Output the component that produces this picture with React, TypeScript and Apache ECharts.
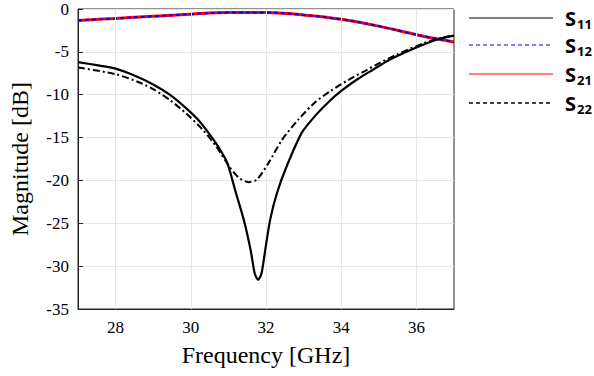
import React, { useEffect, useRef } from "react";
import * as echarts from "echarts";

const s11Freq = [27, 27.5, 28, 28.5, 29.0, 29.44, 29.88, 30.23, 30.53, 30.75, 30.97, 31.19, 31.41, 31.59, 31.7, 31.79, 31.88, 31.98, 32.11, 32.29, 32.55, 32.95, 33.3, 33.65, 34.0, 34.43, 34.8, 35.3, 36.0, 36.6, 37];
const s11Db = [-6.2, -6.55, -6.95, -7.75, -8.8, -10.0, -11.6, -13.1, -14.8, -16.2, -17.95, -21.3, -24.6, -28.1, -30.85, -31.6, -30.85, -28.1, -24.6, -21.5, -18.35, -14.45, -12.5, -10.9, -9.56, -8.2, -7.2, -5.9, -4.5, -3.5, -3.1];

const s22Freq = [27, 28, 28.65, 29.0, 29.44, 29.88, 30.32, 30.67, 31.02, 31.28, 31.54, 31.76, 32.07, 32.42, 32.86, 33.3, 33.74, 34.18, 34.6, 35.0, 35.49, 36.19, 36.72, 37];
const s22Db = [-6.83, -7.6, -8.6, -9.35, -10.6, -12.2, -14.1, -16.0, -18.35, -19.7, -20.2, -19.9, -17.95, -15.3, -12.9, -10.9, -9.5, -8.3, -7.3, -6.35, -5.3, -4.0, -3.3, -3.1];

const s21Freq = [27, 28, 29, 30, 31, 32, 33, 34, 35, 36, 37];
const s21Db = [-1.33, -1.1, -0.85, -0.6, -0.42, -0.4, -0.7, -1.2, -2.0, -3.0, -3.85];
const s12Db = [-1.33, -1.1, -0.85, -0.6, -0.42, -0.4, -0.7, -1.2, -2.0, -3.0, -3.85];

const xGridValues = [28, 30, 32, 34, 36];
const legendNames = ["11", "12", "21", "22"];

const pairs = (xs: number[], ys: number[]) => xs.map((x, i) => [x, ys[i]]);

export default function App() {
  const ref = useRef<HTMLDivElement>(null);
  useEffect(() => {
    if (!ref.current) return;
    const chart = echarts.init(ref.current, undefined, { renderer: "svg" });
    const serif = "'Liberation Serif', 'Times New Roman', serif";
    const axisColor = "#262626";
    const legendRows = [18, 45, 74, 103];
    const legendStyles = [
      { stroke: "#000000", lineWidth: 1, lineDash: null as any },
      { stroke: "#0000ff", lineWidth: 1, lineDash: [4, 3] },
      { stroke: "#ff0000", lineWidth: 1, lineDash: null as any },
      { stroke: "#000000", lineWidth: 1.5, lineDash: [4, 3] },
    ];
    const graphic: any[] = [];
    legendNames.forEach((n, i) => {
      const y = legendRows[i];
      graphic.push({
        type: "line",
        shape: { x1: 469, y1: y, x2: 553, y2: y },
        style: { ...legendStyles[i] },
      });
      graphic.push({
        type: "text",
        x: 565,
        y: y,
        style: { text: "S", font: "bold 20px 'Open Sans'", fill: "#000", verticalAlign: "middle" },
      });
      graphic.push({
        type: "text",
        x: 577,
        y: y + 6,
        style: { text: n, font: "bold 13px 'Open Sans'", fill: "#000", verticalAlign: "middle" },
      });
    });

    chart.setOption({
      animation: false,
      backgroundColor: "#ffffff",
      textStyle: { fontFamily: serif },
      grid: { left: 74, right: 140, top: 9, bottom: 67, show: true, borderColor: axisColor, borderWidth: 1 },
      xAxis: {
        type: "value",
        min: 27,
        max: 37,
        interval: 1,
        name: "Frequency [GHz]",
        nameLocation: "middle",
        nameGap: 34,
        nameTextStyle: { fontFamily: serif, fontSize: 24, color: "#000" },
        axisLine: { onZero: false, lineStyle: { color: axisColor } },
        axisTick: { inside: true, length: 5, lineStyle: { color: axisColor }, customValues: xGridValues },
        axisLabel: {
          fontFamily: serif,
          fontSize: 17,
          color: "#000",
          margin: 10,
          customValues: xGridValues,
          formatter: (v: number) => (v % 2 === 0 ? String(v) : ""),
        },
        splitLine: { show: false },
      },
      yAxis: {
        type: "value",
        min: -35,
        max: 0,
        interval: 5,
        name: "Magnitude [dB]",
        nameLocation: "middle",
        nameGap: 46,
        nameRotate: 90,
        nameTextStyle: { fontFamily: serif, fontSize: 24, color: "#000" },
        axisLine: { onZero: false, lineStyle: { color: axisColor } },
        axisTick: { inside: true, length: 5, lineStyle: { color: axisColor } },
        axisLabel: { fontFamily: serif, fontSize: 17, color: "#000", margin: 9 },
        splitLine: { show: true, lineStyle: { color: "#e6e6e6", width: 1 } },
      },
      graphic,
      series: [
        {
          type: "line",
          data: [],
          z: 1,
          silent: true,
          markLine: {
            silent: true,
            symbol: "none",
            label: { show: false },
            lineStyle: { color: "#e6e6e6", width: 1, type: "solid" },
            data: xGridValues.map((v) => ({ xAxis: v })),
          },
        },
        {
          name: "S21",
          type: "line",
          z: 3,
          data: pairs(s21Freq, s21Db),
          smooth: 0.4,
          showSymbol: false,
          lineStyle: { color: "#ff0000", width: 3 },
        },
        {
          name: "S12",
          type: "line",
          z: 4,
          data: pairs(s21Freq, s12Db),
          smooth: 0.4,
          showSymbol: false,
          lineStyle: { color: "#0000ff", width: 2, type: [4, 3] },
        },
        {
          name: "S11",
          type: "line",
          z: 5,
          data: pairs(s11Freq, s11Db),
          smooth: 0.25,
          showSymbol: false,
          lineStyle: { color: "#000000", width: 2.2 },
        },
        {
          name: "S22",
          type: "line",
          z: 5,
          data: pairs(s22Freq, s22Db),
          smooth: 0.25,
          showSymbol: false,
          lineStyle: { color: "#000000", width: 2, type: [7, 3, 2, 3] },
        },
      ],
    });
    return () => chart.dispose();
  }, []);
  return <div ref={ref} style={{ width: 594, height: 376, position: "absolute", left: 0, top: 0 }} />;
}
